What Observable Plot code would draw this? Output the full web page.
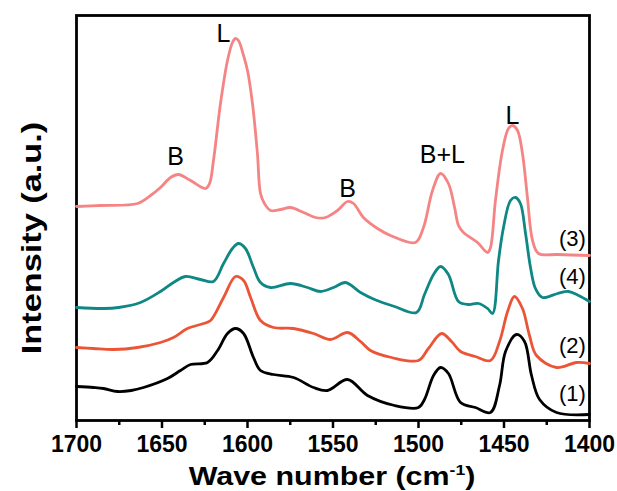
<!DOCTYPE html>
<html>
<head>
<meta charset="utf-8">
<script src="https://cdn.jsdelivr.net/npm/d3@7"></script>
<script src="https://cdn.jsdelivr.net/npm/@observablehq/plot@0.6"></script>
<style>
  html, body { margin: 0; padding: 0; background: #fff; }
  #wrap { position: relative; width: 617px; height: 491px; }
  #xtitle { position: absolute; left: 332px; top: 463px; transform: translateX(-50%) scaleX(1.17);
            font: bold 26px/26px 'Liberation Sans', Arial, sans-serif; color: #000; white-space: nowrap; }
  #xtitle sup { font-size: 15px; line-height: 0; vertical-align: 10px; }
  #ytitle { position: absolute; left: 32px; top: 238px; transform: translate(-50%, -50%) rotate(-90deg) scaleX(1.27);
            font: bold 27px/27px 'Liberation Sans', Arial, sans-serif; color: #000; white-space: nowrap; }
</style>
</head>
<body>
<div id="wrap">
  <div id="chart"></div>
  <div id="xtitle"></div>
  <div id="ytitle"></div>
</div>
<script>
// ---- Data (wavenumber in cm^-1, intensity in a.u.) ----
const seriesNames = ["(1)", "(2)", "(4)", "(3)"];
const seriesColors = ["#000000", "#ec5436", "#0f8784", "#f58484"];

const w1 = [1700, 1690.0, 1684.2, 1676.0, 1668.0, 1660.8, 1646.8, 1639.2, 1633.3, 1623.4, 1617.5, 1611.7, 1607.0, 1602.3, 1596.5, 1592.4, 1584.8, 1573.1, 1561.4, 1553.2, 1541.5, 1529.8, 1514.0, 1500.0, 1496.5, 1491.2, 1487.1, 1482.5, 1475.4, 1466.7, 1457.9, 1452.6, 1449.1, 1442.7, 1438.0, 1433.9, 1429.2, 1419.3, 1400];
const i1 = [0.34, 0.33, 0.32, 0.29, 0.30, 0.33, 0.42, 0.50, 0.56, 0.58, 0.70, 0.87, 0.92, 0.87, 0.63, 0.50, 0.46, 0.43, 0.33, 0.30, 0.41, 0.25, 0.15, 0.13, 0.21, 0.45, 0.53, 0.47, 0.18, 0.13, 0.08, 0.35, 0.69, 0.86, 0.79, 0.45, 0.21, 0.08, 0.06];

const w2 = [1700, 1690.1, 1678.4, 1664.3, 1650.9, 1643.3, 1635.1, 1625.7, 1621.6, 1614.0, 1607.0, 1602.3, 1598.2, 1592.4, 1584.8, 1573.1, 1561.4, 1551.5, 1541.5, 1533.9, 1528.1, 1515.8, 1500.0, 1494.2, 1486.5, 1480.7, 1475.4, 1466.7, 1457.9, 1452.6, 1447.9, 1443.9, 1439.2, 1435.1, 1431.0, 1419.3, 1407.6, 1400];
const i2 = [0.73, 0.72, 0.71, 0.73, 0.78, 0.83, 0.92, 0.97, 1.00, 1.23, 1.44, 1.40, 1.23, 1.00, 0.93, 0.92, 0.87, 0.81, 0.88, 0.79, 0.70, 0.63, 0.60, 0.72, 0.87, 0.79, 0.69, 0.64, 0.60, 0.79, 1.09, 1.24, 1.12, 0.85, 0.65, 0.53, 0.58, 0.57];

const w4 = [1700, 1684.2, 1675.4, 1662.6, 1650.9, 1643.3, 1636.3, 1627.5, 1619.9, 1614.0, 1608.8, 1605.3, 1601.2, 1596.5, 1592.4, 1586.5, 1574.9, 1564.9, 1557.3, 1549.7, 1542.7, 1533.9, 1525.7, 1514.0, 1501.2, 1496.5, 1491.2, 1487.1, 1482.5, 1476.6, 1470.8, 1464.9, 1459.6, 1456.7, 1453.2, 1450.3, 1446.2, 1443.3, 1440.4, 1437.4, 1434.5, 1431.6, 1427.5, 1418.7, 1412.3, 1406.4, 1400];
const i4 = [1.13, 1.12, 1.13, 1.18, 1.29, 1.38, 1.44, 1.41, 1.39, 1.57, 1.72, 1.77, 1.72, 1.53, 1.38, 1.33, 1.37, 1.33, 1.29, 1.33, 1.38, 1.28, 1.21, 1.14, 1.08, 1.26, 1.46, 1.54, 1.46, 1.19, 1.16, 1.17, 1.12, 1.07, 1.60, 1.93, 2.20, 2.23, 2.17, 1.87, 1.53, 1.32, 1.23, 1.27, 1.29, 1.25, 1.19];

const w3 = [1700, 1686.0, 1664.3, 1656.7, 1650.9, 1645.0, 1640.4, 1633.3, 1624.6, 1622.2, 1619.9, 1615.8, 1611.7, 1608.8, 1607.0, 1605.3, 1602.3, 1600.0, 1597.1, 1594.2, 1592.4, 1590.1, 1586.5, 1580.7, 1574.9, 1567.2, 1560.2, 1554.4, 1547.4, 1541.5, 1538.0, 1532.2, 1524.0, 1516.4, 1501.8, 1497.1, 1491.8, 1487.1, 1482.5, 1478.9, 1476.6, 1473.7, 1465.5, 1459.6, 1457.9, 1455.0, 1450.9, 1447.4, 1445.0, 1442.1, 1439.2, 1436.3, 1433.3, 1429.8, 1418.7, 1400];
const i3 = [2.14, 2.15, 2.17, 2.25, 2.33, 2.43, 2.46, 2.40, 2.32, 2.37, 2.60, 3.17, 3.60, 3.78, 3.82, 3.80, 3.65, 3.50, 3.17, 2.67, 2.27, 2.17, 2.10, 2.11, 2.13, 2.08, 2.03, 2.03, 2.10, 2.19, 2.17, 2.03, 1.92, 1.85, 1.78, 1.93, 2.30, 2.47, 2.37, 2.13, 1.95, 1.88, 1.78, 1.68, 1.73, 2.20, 2.70, 2.92, 2.95, 2.90, 2.67, 2.23, 1.80, 1.67, 1.66, 1.65];

// Peak annotations
const peakText = ["B", "L", "B", "B+L", "L"];
const peakW = [1642.1, 1614.0, 1541.5, 1486.0, 1445.0];
const peakI = [2.64, 3.87, 2.32, 2.66, 3.05];

// Series labels
const labelW = [1410, 1410, 1410, 1410];
const labelI = [0.27, 0.75, 1.44, 1.82];

// Axis ticks and titles
const majorTicks = [1700, 1650, 1600, 1550, 1500, 1450, 1400];
const minorTicks = [1675, 1625, 1575, 1525, 1475, 1425];
const xExtent = [1700, 1400];
const yExtent = [0, 4.05];
const xTitleMain = "Wave number (cm";
const xTitleSup = "-1";
const xTitleEnd = ")";
const yTitle = "Intensity (a.u.)";

// ---- Build tables ----
const seriesW = [w1, w2, w4, w3];
const seriesI = [i1, i2, i4, i3];
const points = [];
seriesNames.forEach((name, k) => {
  seriesW[k].forEach((w, j) => points.push({series: name, w, a: seriesI[k][j]}));
});
const peaks = peakText.map((t, j) => ({t, w: peakW[j], a: peakI[j]}));
const labels = seriesNames.map((t, j) => ({t, w: labelW[j], a: labelI[j]}));

const chart = Plot.plot({
  width: 617,
  height: 491,
  marginLeft: 76,
  marginRight: 28,
  marginTop: 15,
  marginBottom: 71,
  style: {fontFamily: "'Liberation Sans', Arial, sans-serif"},
  x: {domain: xExtent, label: null},
  y: {domain: yExtent, axis: null, label: null},
  marks: [
    Plot.frame({stroke: "black", strokeWidth: 2.8}),
    Plot.axisX({ticks: minorTicks, tickSize: 5, strokeWidth: 2.5, tickFormat: () => "", label: null}),
    Plot.axisX({ticks: majorTicks, tickSize: 8, tickPadding: 7, strokeWidth: 2.5, fontSize: 23, fontWeight: "bold", tickFormat: d => String(d), label: null}),
    Plot.line(points, {x: "w", y: "a", z: "series", stroke: d => seriesColors[seriesNames.indexOf(d.series)], strokeWidth: 2.8, curve: "catmull-rom", strokeLinejoin: "round", strokeLinecap: "round"}),
    Plot.text(peaks, {x: "w", y: "a", text: "t", fontSize: 25}),
    Plot.text(labels, {x: "w", y: "a", text: "t", fontSize: 22})
  ]
});
document.getElementById("chart").appendChild(chart);

const xt = document.getElementById("xtitle");
xt.appendChild(document.createTextNode(xTitleMain));
const sup = document.createElement("sup");
sup.textContent = xTitleSup;
xt.appendChild(sup);
xt.appendChild(document.createTextNode(xTitleEnd));
document.getElementById("ytitle").textContent = yTitle;
</script>
</body>
</html>
